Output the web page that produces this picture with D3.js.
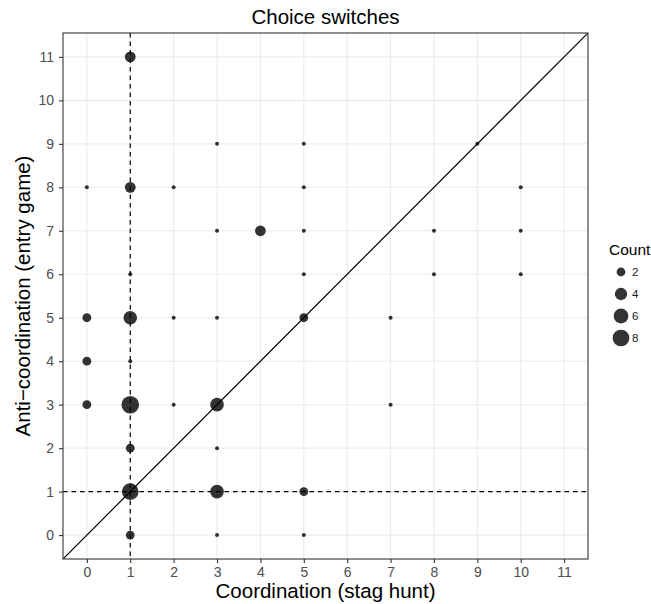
<!DOCTYPE html>
<html>
<head>
<meta charset="utf-8">
<script src="https://cdn.jsdelivr.net/npm/d3@7"></script>
<style>
  body { margin: 0; background: #fff; }
  svg text { font-family: Helvetica, Arial, "Liberation Sans", sans-serif; }
</style>
</head>
<body>
<svg id="chart" width="651" height="604"></svg>
<script>
// switches per player: coordination game (x) vs anti-coordination game (y)
let coordSwitches = [0, 0, 0, 0, 1, 1, 1, 1, 1, 1, 1, 1, 1, 2, 2, 2, 3, 3, 3, 3, 3, 3, 3, 4, 5, 5, 5, 5, 5, 5, 5, 7, 7, 8, 8, 9, 10, 10, 10]
let antiSwitches  = [3, 4, 5, 8, 0, 1, 2, 3, 4, 5, 6, 8, 11, 3, 5, 8, 0, 1, 2, 3, 5, 7, 9, 7, 0, 1, 5, 6, 7, 8, 9, 3, 5, 6, 7, 9, 6, 7, 8]
let counts        = [2, 2, 2, 1, 2, 8, 2, 9, 1, 5, 1, 3, 3, 1, 1, 1, 1, 5, 1, 5, 1, 1, 1, 3, 1, 2, 2, 1, 1, 1, 1, 1, 1, 1, 1, 1, 1, 1, 1]

let tickValues = d3.range(0, 12)
let legendBreaks = [2, 4, 6, 8]

let svg = d3.select("#chart")
let margin = {left: 63, right: 63, top: 33, bottom: 45}
let width = +svg.attr("width")
let height = +svg.attr("height")
let x0 = margin.left, x1 = width - margin.right
let y0 = margin.top, y1 = height - margin.bottom

let x = d3.scaleLinear().domain([-0.55, 11.55]).range([x0, x1])
let y = d3.scaleLinear().domain([-0.55, 11.55]).range([y1, y0])

let minC = d3.min(counts), maxC = d3.max(counts)
let size = d3.scaleSqrt().domain([0, maxC - minC]).range([2, 8.8])

let points = counts.map((c, i) => ({x: coordSwitches[i], y: antiSwitches[i], n: c}))

// panel background + grid
svg.append("rect").attr("x", x0).attr("y", y0).attr("width", x1 - x0).attr("height", y1 - y0).attr("fill", "#fff")

let grid = svg.append("g")
grid.selectAll(".gx").data(tickValues).join("line")
    .attr("x1", d => x(d)).attr("x2", d => x(d))
    .attr("y1", y0).attr("y2", y1)
    .attr("stroke", "#ebebeb").attr("stroke-width", 1.1)
grid.selectAll(".gy").data(tickValues).join("line")
    .attr("y1", d => y(d)).attr("y2", d => y(d))
    .attr("x1", x0).attr("x2", x1)
    .attr("stroke", "#ebebeb").attr("stroke-width", 1.1)

svg.append("clipPath").attr("id", "panel-clip")
  .append("rect").attr("x", x0).attr("y", y0).attr("width", x1 - x0).attr("height", y1 - y0)

let panel = svg.append("g").attr("clip-path", "url(#panel-clip)")

// reference lines
panel.append("line")
    .attr("x1", x(1)).attr("x2", x(1)).attr("y1", y0).attr("y2", y1)
    .attr("stroke", "#000").attr("stroke-width", 1.2).attr("stroke-dasharray", "4.5,4")
panel.append("line")
    .attr("x1", x0).attr("x2", x1).attr("y1", y(1)).attr("y2", y(1))
    .attr("stroke", "#000").attr("stroke-width", 1.2).attr("stroke-dasharray", "4.5,4")
panel.append("line")
    .attr("x1", x(-0.55)).attr("y1", y(-0.55))
    .attr("x2", x(11.55)).attr("y2", y(11.55))
    .attr("stroke", "#000").attr("stroke-width", 1.2)

panel.selectAll(".pt").data(points).join("circle")
    .attr("class", "pt")
    .attr("cx", d => x(d.x))
    .attr("cy", d => y(d.y))
    .attr("r", d => size(d.n - minC))
    .attr("fill", "#000")
    .attr("fill-opacity", 0.8)

// border
svg.append("rect").attr("x", x0).attr("y", y0).attr("width", x1 - x0).attr("height", y1 - y0)
    .attr("fill", "none").attr("stroke", "#333").attr("stroke-width", 1.1)

// axes
let xAxis = d3.axisBottom(x).tickValues(tickValues).tickSize(4).tickPadding(4)
let yAxis = d3.axisLeft(y).tickValues(tickValues).tickSize(4).tickPadding(5)

let gx = svg.append("g").attr("transform", `translate(0,${y1})`).call(xAxis)
let gy = svg.append("g").attr("transform", `translate(${x0},0)`).call(yAxis)
;[gx, gy].forEach(g => {
  g.select(".domain").remove()
  g.selectAll(".tick line").attr("stroke", "#333").attr("stroke-width", 1.1)
  g.selectAll(".tick text").attr("fill", "#4d4d4d").style("font-size", "14px")
})

// titles
svg.append("text")
    .attr("x", (x0 + x1) / 2).attr("y", 24)
    .attr("text-anchor", "middle")
    .style("font-size", "20.5px")
    .text("Choice switches")

svg.append("text")
    .attr("x", (x0 + x1) / 2).attr("y", 598)
    .attr("text-anchor", "middle")
    .style("font-size", "20.5px")
    .text("Coordination (stag hunt)")

svg.append("text")
    .attr("transform", `translate(30,${(y0 + y1) / 2}) rotate(-90)`)
    .attr("text-anchor", "middle")
    .style("font-size", "20.5px")
    .text("Anti\u2212coordination (entry game)")

// legend
let legend = svg.append("g").attr("transform", "translate(609,0)")
legend.append("text").attr("x", 0).attr("y", 255).style("font-size", "15.5px").text("Count")
let keys = legend.selectAll(".key").data(legendBreaks).join("g")
    .attr("transform", (d, i) => `translate(12,${272 + i * 22})`)
keys.append("circle")
    .attr("r", d => size(d - minC))
    .attr("fill", "#000").attr("fill-opacity", 0.8)
keys.append("text")
    .attr("x", 11).attr("dy", "0.35em")
    .style("font-size", "11.5px")
    .attr("fill", "#1a1a1a")
    .text(d => d)
</script>
</body>
</html>
